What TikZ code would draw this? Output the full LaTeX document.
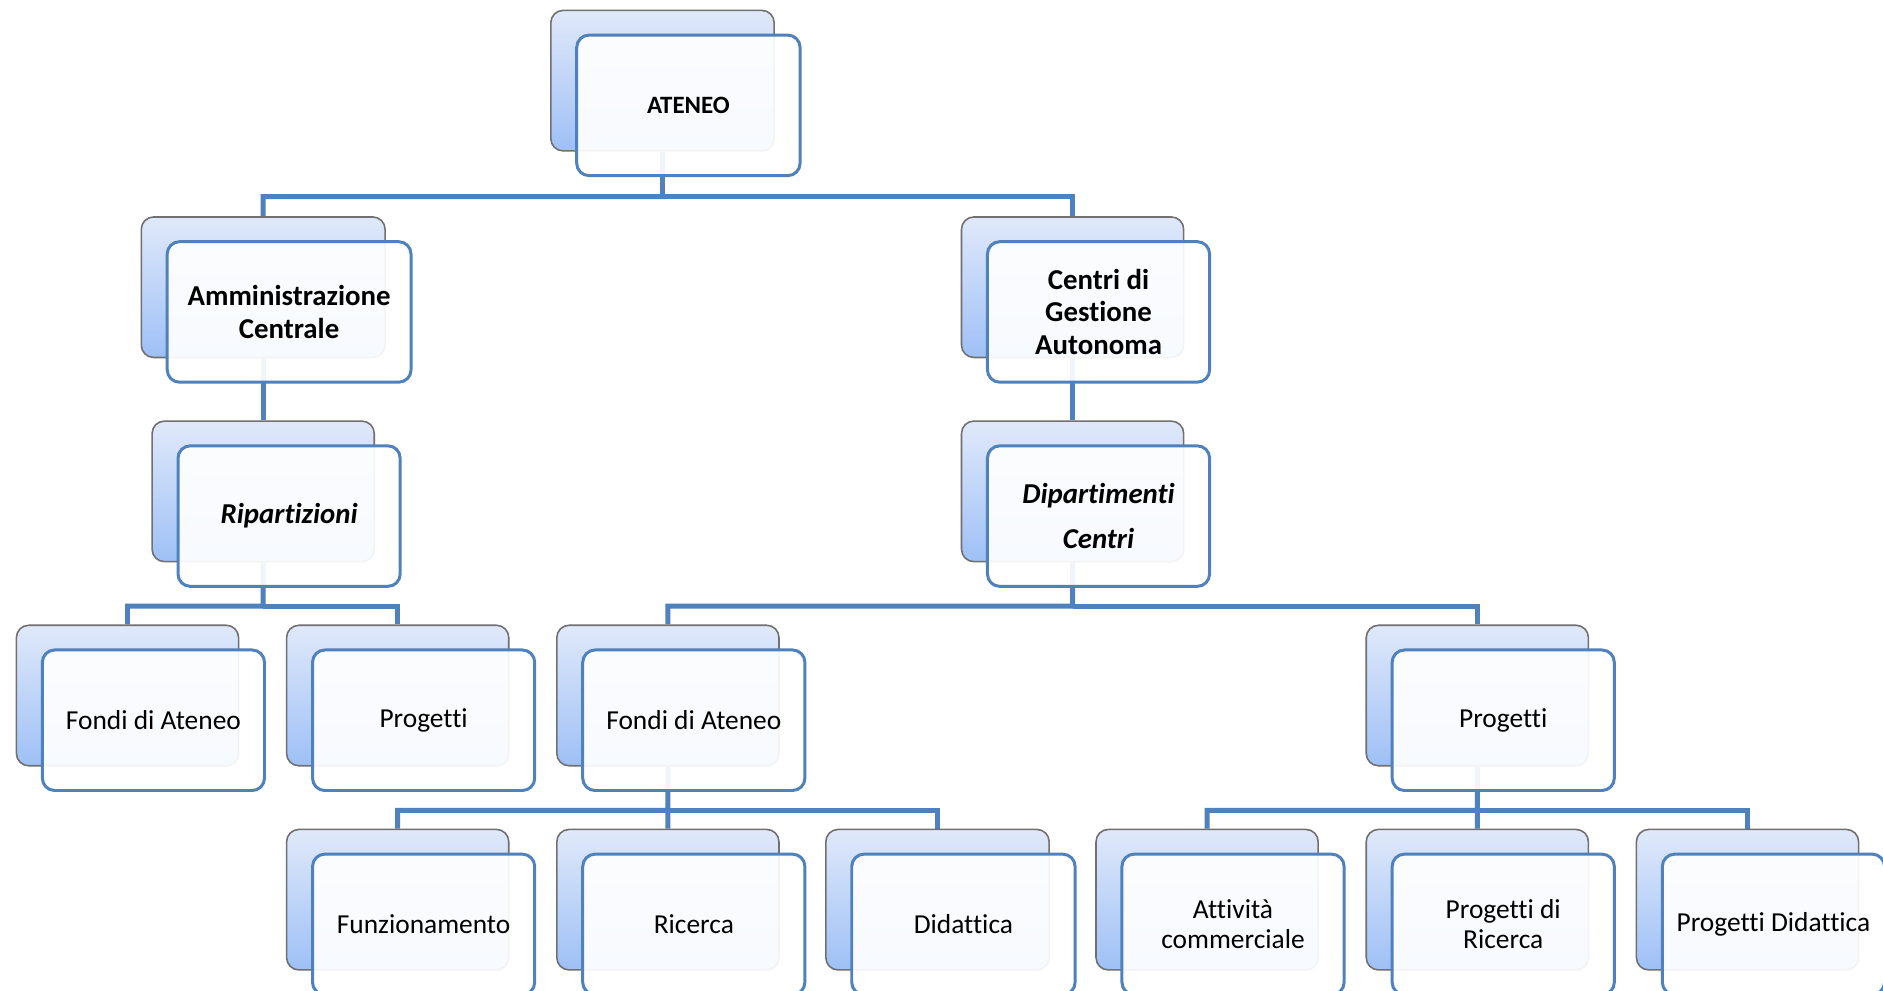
\documentclass[tikz,border=0pt]{standalone}
\usepackage{fontspec}
\setmainfont{Carlito}[Ligatures=NoCommon]
\usetikzlibrary{calc,backgrounds}
\definecolor{lineblue}{RGB}{79,129,189}
\definecolor{bgtop}{RGB}{224,233,250}
\definecolor{bgbot}{RGB}{158,192,246}
\definecolor{bgedge}{RGB}{112,112,112}
\tikzset{
  backbox/.style={rectangle, rounded corners=3.5pt, draw=bgedge, line width=0.45pt,
    top color=bgtop, bottom color=bgbot, minimum height=117*0.012009cm, inner sep=0pt},
  frontbox/.style={rectangle, rounded corners=3.5pt, draw=lineblue, line width=0.85pt,
    fill=white, fill opacity=0.92, text opacity=1, minimum height=117*0.012009cm,
    inner sep=1pt, align=center, text=black, font=\fontsize{7.8}{8.6}\selectfont},
  ateneofont/.style={font=\bfseries\fontsize{7.1}{8}\selectfont},
  boldfont/.style={font=\bfseries\fontsize{8.2}{9.2}\selectfont},
  bifont/.style={font=\bfseries\itshape\fontsize{8.2}{12.6}\selectfont},
  conn/.style={draw=lineblue, line width=1.4pt}
}
% #1 extra style, #2 name, #3 x (back top-left), #4 y, #5 width, #6 text
\newcommand\obox[6][]{%
  \node[backbox, minimum width=#5*0.012009cm, anchor=north west] (#2-b) at (#3,#4) {};
  \node[frontbox, #1, minimum width=#5*0.012009cm, anchor=north west] (#2) at (#3+21,#4+20) {#6};
}
\begin{document}
\begin{tikzpicture}[x=0.012009cm,y=-0.012009cm]
\useasboundingbox (0,0) rectangle (1568,825);

\obox[ateneofont]{ateneo}{458}{8}{186}{ATENEO}
\obox[boldfont]{amm}{117}{180}{203}{Amministrazione\\Centrale}
\obox[boldfont]{cga}{800}{180}{185}{Centri di\\Gestione\\Autonoma}
\obox[bifont]{rip}{126}{350}{185}{Ripartizioni}
\obox[bifont]{dip}{800}{350}{185}{Dipartimenti\\Centri}
\obox{fondiL}{13}{520}{185}{Fondi di Ateneo}
\obox{progL}{238}{520}{185}{Progetti}
\obox{fondiM}{463}{520}{185}{Fondi di Ateneo}
\obox{progR}{1137}{520}{185}{Progetti}
\obox{funz}{238}{690}{185}{Funzionamento}
\obox{ric}{463}{690}{185}{Ricerca}
\obox{did}{687}{690}{186}{Didattica}
\obox{att}{912}{690}{185}{Attività\\commerciale}
\obox{pric}{1137}{690}{185}{Progetti di\\Ricerca}
\obox{pdid}{1362}{690}{185}{Progetti Didattica}

\begin{pgfonlayer}{background}
  \fill[white] (0,0) rectangle (1568,825);
  \coordinate (bus0) at ($(ateneo-b.south |- ateneo.south)!0.5!(ateneo-b.south |- amm-b.north)$);
  \draw[conn] (ateneo-b.south) -- (bus0) -| (amm-b.north);
  \draw[conn] (bus0) -| (cga-b.north);
  \draw[conn] (amm-b.south) -- (rip-b.north);
  \draw[conn] (cga-b.south) -- (dip-b.north);
  \coordinate (bus1) at ($(rip-b.south |- rip.south)!0.5!(rip-b.south |- fondiL-b.north)$);
  \draw[conn] (rip-b.south) -- (bus1) -| (fondiL-b.north);
  \draw[conn] (bus1) -| (progL-b.north);
  \coordinate (bus2) at ($(dip-b.south |- dip.south)!0.5!(dip-b.south |- fondiM-b.north)$);
  \draw[conn] (dip-b.south) -- (bus2) -| (fondiM-b.north);
  \draw[conn] (bus2) -| (progR-b.north);
  \coordinate (bus3) at ($(fondiM-b.south |- fondiM.south)!0.5!(fondiM-b.south |- ric-b.north)$);
  \draw[conn] (fondiM-b.south) -- (bus3) -| (funz-b.north);
  \draw[conn] (bus3) -- (ric-b.north);
  \draw[conn] (bus3) -| (did-b.north);
  \coordinate (bus4) at ($(progR-b.south |- progR.south)!0.5!(progR-b.south |- pric-b.north)$);
  \draw[conn] (progR-b.south) -- (bus4) -| (att-b.north);
  \draw[conn] (bus4) -- (pric-b.north);
  \draw[conn] (bus4) -| (pdid-b.north);
\end{pgfonlayer}
\end{tikzpicture}
\end{document}
